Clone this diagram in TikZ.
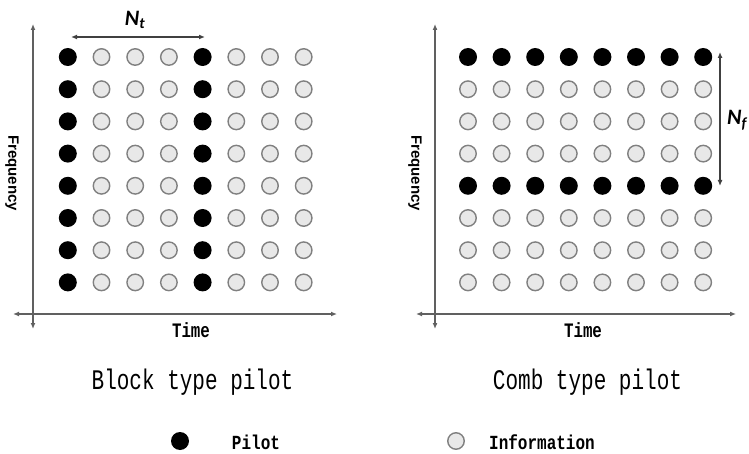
\documentclass[tikz,border=0pt]{standalone}
\usepackage{fontspec}
\setmainfont{Liberation Serif}
\newfontfamily\gridfont{Liberation Mono}
\newfontfamily\axisfont{Liberation Sans}
\newfontfamily\symfont{Carlito}
\usetikzlibrary{arrows.meta}

\begin{document}
\begin{tikzpicture}[x=1pt,y=-1pt,
  pilot/.style={circle,fill=black,minimum size=18pt,inner sep=0pt},
  info/.style={circle,fill=gray!18,draw=gray,line width=1.4pt,minimum size=16.5pt,inner sep=0pt},
  axisline/.style={draw=gray!75!black,line width=1.5pt,
    {Latex[length=6pt,width=5pt]}-{Latex[length=6pt,width=5pt]}},
  spanline/.style={draw=gray!50!black,line width=1.4pt,
    {Latex[length=6pt,width=5pt]}-{Latex[length=6pt,width=5pt]}},
  timelabel/.style={font=\gridfont\bfseries\fontsize{15.8}{15.8}\selectfont},
  freqlabel/.style={font=\axisfont\bfseries\fontsize{15}{15}\selectfont},
  title/.style={font=\gridfont\fontsize{21}{21}\selectfont},
  legendtext/.style={font=\gridfont\bfseries\fontsize{16}{16}\selectfont},
  symlabel/.style={font=\symfont\bfseries\itshape\fontsize{22}{22}\selectfont}
]
\useasboundingbox (0,0) rectangle (749,454);

% block type pilot: pilot columns 1 and 5
\foreach \i in {0,...,7}{
  \foreach \j in {0,...,7}{
    \ifnum\i=0 \def\kind{pilot}\else\ifnum\i=4 \def\kind{pilot}\else\def\kind{info}\fi\fi
    \node[\kind] (L-\i-\j) at ({67.8+33.7*\i},{57+32.2*\j}) {};
  }
}
% comb type pilot: pilot rows 1 and 5
\foreach \i in {0,...,7}{
  \foreach \j in {0,...,7}{
    \ifnum\j=0 \def\kind{pilot}\else\ifnum\j=4 \def\kind{pilot}\else\def\kind{info}\fi\fi
    \node[\kind] (R-\i-\j) at ({468+33.6*\i},{57+32.2*\j}) {};
  }
}

% axes, left
\coordinate (LvT) at (33,24);
\coordinate (LvB) at (33,329);
\coordinate (LhL) at (13,314);
\coordinate (LhR) at (337,314);
\draw[axisline] (LvT) -- (LvB);
\draw[axisline] (LhL) -- (LhR);
% axes, right
\coordinate (RvT) at (435,24);
\coordinate (RvB) at (435,329);
\coordinate (RhL) at (416,314);
\coordinate (RhR) at (736,314);
\draw[axisline] (RvT) -- (RvB);
\draw[axisline] (RhL) -- (RhR);

\node[timelabel] (LTime) at (191,330) {\scalebox{1}[1.3]{Time}};
\node[timelabel] (RTime) at (583,330) {\scalebox{1}[1.3]{Time}};
\node[freqlabel,rotate=-90] (LFreq) at (12,173) {Frequency};
\node[freqlabel,rotate=-90] (RFreq) at (415,173) {Frequency};

% pilot spacing
\coordinate (NtA) at (71,37);
\coordinate (NtB) at (205,37);
\draw[spanline] (NtA) -- (NtB);
\node[symlabel] (Nt) at (135,20) {N\textsubscript{t}};
\coordinate (NfA) at (720,52);
\coordinate (NfB) at (720,186);
\draw[spanline] (NfA) -- (NfB);
\node[symlabel] (Nf) at (737,120) {N\textsubscript{f}};

% titles
\node[title] (LTitle) at (192.5,382) {\scalebox{1}[1.35]{Block type pilot}};
\node[title] (RTitle) at (587.5,382) {\scalebox{1}[1.35]{Comb type pilot}};

% legend
\node[pilot] (kP) at (180,441) {};
\node[legendtext] (kPt) at (256,442) {\scalebox{1}[1.25]{Pilot}};
\node[info] (kI) at (456,441) {};
\node[legendtext] (kIt) at (542,442) {\scalebox{1}[1.25]{Information}};
\end{tikzpicture}
\end{document}
